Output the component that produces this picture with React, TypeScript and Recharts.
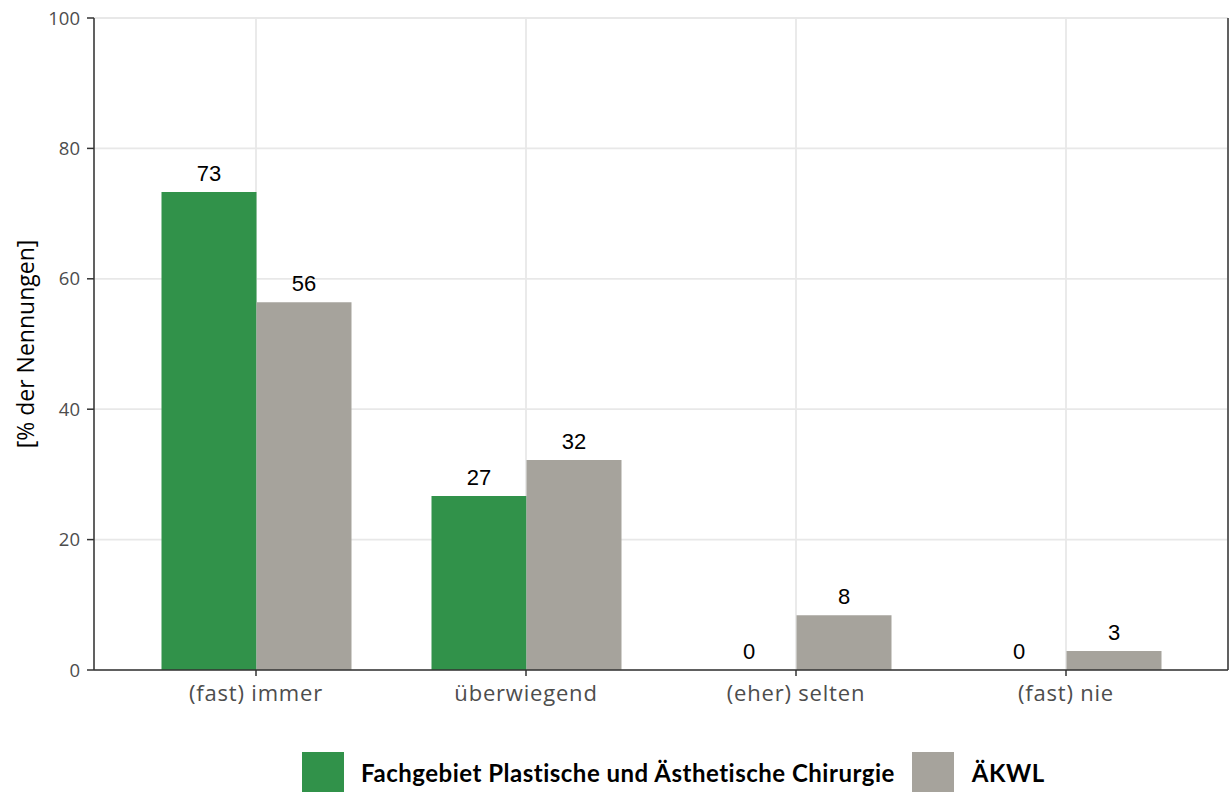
import { BarChart, Bar, XAxis, YAxis, CartesianGrid, LabelList } from "recharts";

const categories = ["(fast) immer", "überwiegend", "(eher) selten", "(fast) nie"];
const fachgebiet = [73.3, 26.7, 0, 0];
const aekwl = [56.4, 32.2, 8.4, 2.9];
const majorTicks = [0, 20, 40, 60, 80, 100];
const minorTicks = [10, 30, 50, 70, 90];
const seriesKeys = ["fach", "aekwl"];
const seriesNames = ["Fachgebiet Plastische und Ästhetische Chirurgie", "ÄKWL"];
const seriesColors = ["#31924a", "#a6a39c"];

const data = categories.map((category, i) => ({
  category,
  fach: fachgebiet[i],
  aekwl: aekwl[i],
}));

const axisColor = "#333333";
const tickFont = { fill: "#4d4d4d", fontFamily: "Open Sans" };

const YTitle = (props: any) => {
  const { viewBox } = props;
  const cx = viewBox.x + 25;
  const cy = viewBox.y + viewBox.height / 2;
  return (
    <text
      x={cx}
      y={cy}
      transform={`rotate(-90 ${cx} ${cy})`}
      textAnchor="middle"
      dominantBaseline="central"
      fontFamily="Open Sans"
      fontSize={23}
      fill="#000"
    >
      [% der Nennungen]
    </text>
  );
};

export default function App() {
  return (
    <div style={{ position: "absolute", left: 0, top: 0, width: 1229, height: 792 }}>
      <BarChart
        width={1229}
        height={792}
        data={data}
        margin={{ top: 18, right: 0, bottom: 0, left: 0 }}
        barCategoryGap="15%"
        barGap={0}
      >
        <CartesianGrid yAxisId="minor" vertical={false} stroke="#f3f3f3" strokeWidth={1} />
        <CartesianGrid stroke="#e8e8e8" strokeWidth={1.8} />
        <XAxis
          dataKey="category"
          height={122}
          interval={0}
          padding={{ left: 27, right: 27 }}
          tickSize={6}
          tickMargin={9}
          tick={{ ...tickFont, fontSize: 22, letterSpacing: 0.8 }}
          axisLine={{ stroke: axisColor, strokeWidth: 1.5 }}
          tickLine={{ stroke: axisColor, strokeWidth: 1.5 }}
        />
        <XAxis
          xAxisId="top"
          dataKey="category"
          orientation="top"
          height={0}
          tick={false}
          tickLine={false}
          axisLine={{ stroke: axisColor, strokeWidth: 1.5 }}
        />
        <YAxis
          width={94}
          domain={[0, 100]}
          ticks={majorTicks}
          interval={0}
          tickSize={7}
          tickMargin={7}
          tick={{ ...tickFont, fontSize: 18.5 }}
          axisLine={{ stroke: axisColor, strokeWidth: 1.5 }}
          tickLine={{ stroke: axisColor, strokeWidth: 1.5 }}
          label={<YTitle />}
        />
        <YAxis
          yAxisId="minor"
          orientation="right"
          width={1}
          domain={[0, 100]}
          ticks={minorTicks}
          interval={0}
          tick={false}
          tickLine={false}
          axisLine={{ stroke: axisColor, strokeWidth: 1.5 }}
        />
        {seriesKeys.map((key, i) => (
          <Bar
            key={key}
            dataKey={key}
            name={seriesNames[i]}
            fill={seriesColors[i]}
            minPointSize={0.01}
            isAnimationActive={false}
          >
            <LabelList
              dataKey={key}
              position="top"
              offset={11}
              formatter={(v: any) => Math.round(Number(v))}
              fill="#000"
              fontSize={22}
              fontFamily="Liberation Sans"
            />
          </Bar>
        ))}
      </BarChart>
      <div
        style={{
          position: "absolute",
          left: 302,
          top: 752,
          height: 40,
          display: "flex",
          alignItems: "center",
          fontFamily: "Lato",
          fontWeight: 700,
          fontSize: 24,
          letterSpacing: 0.5,
          color: "#000",
          whiteSpace: "nowrap",
        }}
      >
        {seriesNames.map((name, i) => (
          <div key={name} style={{ display: "flex", alignItems: "center", marginRight: 17 }}>
            <div style={{ width: 42, height: 40, background: seriesColors[i], marginRight: i === 0 ? 17 : 18 }} />
            <span>{name}</span>
          </div>
        ))}
      </div>
    </div>
  );
}
